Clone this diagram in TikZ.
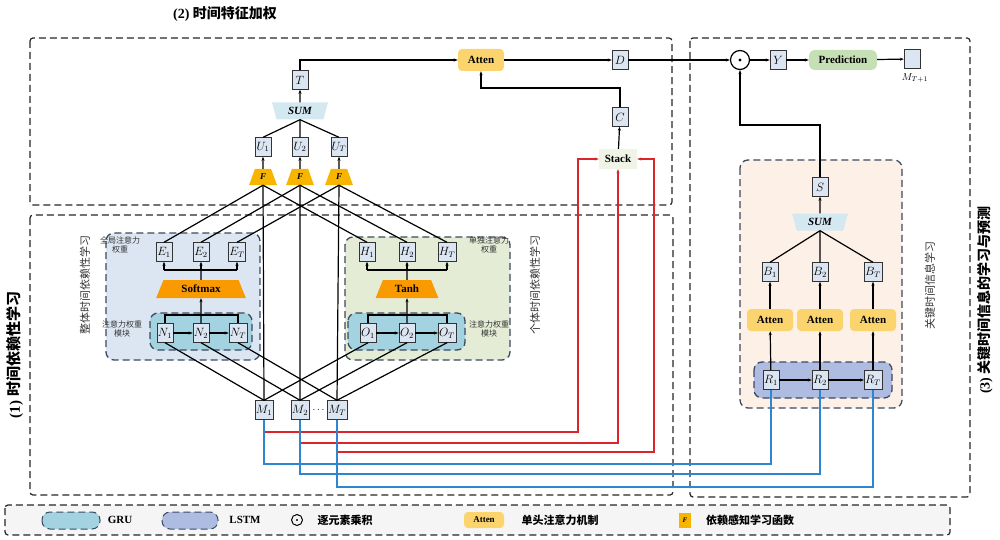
\documentclass[tikz,border=0pt]{standalone}
\usepackage{fontspec}
\setmainfont{Liberation Serif}
\newfontfamily\cjk{Noto Sans CJK SC}
\usetikzlibrary{shapes.geometric,arrows.meta}
\definecolor{nodefill}{HTML}{DCE6F2}
\definecolor{gblue}{HTML}{DCE6F2}
\definecolor{gru}{HTML}{A3D3E0}
\definecolor{ggreen}{HTML}{E4ECD6}
\definecolor{gorange}{HTML}{FDF0E6}
\definecolor{lstm}{HTML}{AEBCE2}
\definecolor{atten}{HTML}{FCD46E}
\definecolor{ffun}{HTML}{F7B500}
\definecolor{soft}{HTML}{F89A00}
\definecolor{pred}{HTML}{C5E0B4}
\definecolor{sumc}{HTML}{D4E8F1}
\definecolor{dash}{HTML}{3B4A5E}
\definecolor{redl}{HTML}{D9252B}
\definecolor{bluel}{HTML}{2E86D1}
\tikzset{
 box/.style={draw=black!80,fill=nodefill,minimum width=16pt,minimum height=19pt,inner sep=1pt,font=\fontsize{12}{12}\selectfont},
 ff/.style={trapezium,trapezium angle=70,fill=ffun,minimum width=24pt,minimum height=16pt,inner sep=1pt,font=\bfseries\itshape\fontsize{9}{9}\selectfont},
 sum/.style={trapezium,trapezium angle=75,shape border rotate=180,fill=sumc,minimum width=48pt,minimum height=17pt,inner sep=1pt,font=\bfseries\itshape\fontsize{11}{11}\selectfont},
 act/.style={trapezium,trapezium angle=68,fill=soft,minimum width=55pt,minimum height=18pt,inner sep=1pt,font=\bfseries\fontsize{11}{11}\selectfont},
 att/.style={rounded corners=4pt,fill=atten,minimum width=46pt,minimum height=22pt,inner sep=1pt,font=\bfseries\fontsize{11}{11}\selectfont},
 gbox/.style={dashed,draw=dash,line width=1.3pt,rounded corners=8pt,dash pattern=on 7pt off 4pt},
 big/.style={dashed,draw=black!85,line width=1.2pt,rounded corners=3pt,dash pattern=on 7pt off 4pt},
 ln/.style={line width=1.2pt,black},
 ar/.style={ln,-{Stealth[length=4pt]}},
 rl/.style={line width=1.3pt,redl},
 bl/.style={line width=1.3pt,bluel},
 lab/.style={font=\cjk\fontsize{8}{9}\selectfont,align=center,text=black!80},
 vlab/.style={font=\cjk\fontsize{11}{11}\selectfont,rotate=90,text=black!80},
}
\begin{document}
\begin{tikzpicture}[x=1pt,y=-1pt]
\useasboundingbox (0,0) rectangle (1000,540);
% big frames
\draw[big] (30,38) rectangle (672,205);
\draw[big] (30,215) rectangle (673,495);
\draw[big] (690,38) rectangle (970,497);
\draw[big,fill=black!4] (5,505) rectangle (950,535);
% group panels
\draw[gbox,fill=gblue] (106,233) rectangle (260,360);
\draw[gbox,fill=gru] (150,313) rectangle (252,350);
\draw[gbox,fill=ggreen] (345,237) rectangle (510,360);
\draw[gbox,fill=gru] (348,313) rectangle (465,350);
\draw[gbox,fill=gorange] (740,160) rectangle (902,408);
\draw[gbox,fill=lstm] (754,362) rectangle (892,398);
% titles
\node[font=\bfseries\fontsize{14}{14}\selectfont] (t2) at (225,14) {(2) {\cjk 时间特征加权}};
\node[font=\bfseries\fontsize{15}{15}\selectfont,rotate=90] (t1) at (15,355) {(1) {\cjk 时间依赖性学习}};
\node[font=\bfseries\fontsize{14}{14}\selectfont,rotate=90] (t3) at (985,300) {(3) {\cjk 关键时间信息的学习与预测}};
\node[vlab] (l1) at (85,285) {整体时间依赖性学习};
\node[vlab] (l2) at (535,285) {个体时间依赖性学习};
\node[vlab] (l3) at (930,285) {关键时间信息学习};
\node[lab] (g1) at (120,245) {全局注意力\\权重};
\node[lab] (g2) at (122,329) {注意力权重\\模块};
\node[lab] (g3) at (489,245) {单独注意力\\权重};
\node[lab] (g4) at (489,329) {注意力权重\\模块};
% M nodes
\node[box] (M1) at (264,410) {$M_1$};
\node[box] (M2) at (300,410) {$M_2$};
\node[box] (MT) at (337,410) {$M_T$};
\node (dots) at (318.5,410) {$\cdots$};
% left module
\node[box] (N1) at (165,333) {$N_1$};
\node[box] (N2) at (201,333) {$N_2$};
\node[box] (NT) at (238,333) {$N_T$};
\node[act] (sm) at (201,289) {Softmax};
\node[box] (E1) at (164,252) {$E_1$};
\node[box] (E2) at (201,252) {$E_2$};
\node[box] (ET) at (237,252) {$E_T$};
% right module
\node[box] (O1) at (368,333) {$O_1$};
\node[box] (O2) at (407,333) {$O_2$};
\node[box] (OT) at (447,333) {$O_T$};
\node[act] (th) at (407,289) {Tanh};
\node[box] (H1) at (367,252) {$H_1$};
\node[box] (H2) at (407,252) {$H_2$};
\node[box] (HT) at (447,252) {$H_T$};
% top
\node[ff] (F1) at (263,177) {F};
\node[ff] (F2) at (300,177) {F};
\node[ff] (F3) at (339,177) {F};
\node[box] (U1) at (263,147) {$U_1$};
\node[box] (U2) at (300,147) {$U_2$};
\node[box] (UT) at (339,147) {$U_T$};
\node[sum] (S1) at (300,111) {SUM};
\node[box] (T) at (300,80) {$T$};
\node[att] (A0) at (481,60) {Atten};
\node[box] (D) at (620,60) {$D$};
\node[box] (C) at (620,117) {$C$};
\node[fill=ggreen!60,minimum width=38pt,minimum height=20pt,inner sep=1pt,font=\bfseries\fontsize{11}{11}\selectfont] (st) at (618,159) {Stack};
\node[draw,circle,line width=1.2pt,minimum size=19pt,inner sep=0pt] (od) at (740,60) {};
\fill (od.center) circle (1.6pt);
\node[box] (Y) at (778,60) {$Y$};
\node[fill=pred,rounded corners=6pt,minimum width=68pt,minimum height=20pt,font=\bfseries\fontsize{11}{11}\selectfont] (pr) at (843,60) {Prediction};
\node[box,minimum width=16pt] (MP) at (912,59) {};
\node[font=\bfseries\fontsize{10}{10}\selectfont] (mpl) at (915,78) {$M_{T+1}$};
% right panel
\node[box] (S) at (820,187) {$S$};
\node[sum] (S2) at (820,222) {SUM};
\node[box] (B1) at (770,272) {$B_1$};
\node[box] (B2) at (820,272) {$B_2$};
\node[box] (BT) at (873,272) {$B_T$};
\node[att] (A1) at (770,320) {Atten};
\node[att] (A2) at (820,320) {Atten};
\node[att] (A3) at (873,320) {Atten};
\node[box] (R1) at (771,380) {$R_1$};
\node[box] (R2) at (820,380) {$R_2$};
\node[box] (RT) at (873,380) {$R_T$};
% connections bottom
\foreach \a/\b in {N1/M1,N2/M2,NT/MT,O1/M1,O2/M2,OT/MT}{\draw[ln] (\a.south) -- (\b.north);}
\draw[ln] (M1.north) -- (F1.south);
\draw[ln] (M2.north) -- (F2.south);
\draw[ln] (MT.north) -- (F3.south);
\foreach \a/\b in {E1/F1,E2/F2,ET/F3,H1/F1,H2/F2,HT/F3}{\draw[ln] (\a.north) -- (\b.south);}
\draw[ar] (N1) -- (N2); \draw[ar] (N2) -- (NT);
\draw[ar] (O1) -- (O2); \draw[ar] (O2) -- (OT);
\draw[ln] (N1.north) |- (NT.north |- 0,315) -- (NT.north);
\draw[ar] (N2.north) -- (sm.south);
\draw[ln] (sm.north) -- (E2.south |- 0,270);
\draw[ar] (E1.south |- 0,270) -- (E1.south);
\draw[ar] (E2.south |- 0,270) -- (E2.south);
\draw[ar] (ET.south |- 0,270) -- (ET.south);
\draw[ln] (E1.south |- 0,270) -- (ET.south |- 0,270);
\draw[ln] (O1.north) |- (OT.north |- 0,315) -- (OT.north);
\draw[ar] (O2.north) -- (th.south);
\draw[ln] (th.north) -- (H2.south |- 0,270);
\draw[ln] (H1.south |- 0,270) -- (HT.south |- 0,270);
\draw[ar] (H1.south |- 0,270) -- (H1.south);
\draw[ar] (H2.south |- 0,270) -- (H2.south);
\draw[ar] (HT.south |- 0,270) -- (HT.south);
% top connections
\draw[ar] (F1) -- (U1); \draw[ar] (F2) -- (U2); \draw[ar] (F3) -- (UT);
\draw[ln] (U1.north) -- (S1.south); \draw[ln] (U2.north) -- (S1.south); \draw[ln] (UT.north) -- (S1.south);
\draw[ar] (S1) -- (T);
\draw[ar] (T.north) |- (A0.west);
\draw[ar] (A0) -- (D);
\draw[ar] (st) -- (C);
\draw[ar] (C.north) |- (A0.south |- 0,88) -- (A0.south);
\draw[ar] (D) -- (od);
\draw[ar] (od) -- (Y);
\draw[ar] (Y) -- (pr);
\draw[ar] (pr) -- (MP);
\draw[ar] (S.north) |- (od.south |- 0,125) -- (od.south);
\draw[ar] (S2) -- (S);
\draw[ln] (B1.north) -- (S2.south); \draw[ln] (B2.north) -- (S2.south); \draw[ln] (BT.north) -- (S2.south);
\draw[ar] (A1) -- (B1); \draw[ar] (A2) -- (B2); \draw[ar] (A3) -- (BT);
\draw[ar] (R1) -- (A1); \draw[ar] (R2) -- (A2); \draw[ar] (RT) -- (A3);
\draw[ar] (R1) -- (R2); \draw[ar] (R2) -- (RT);
% red lines
\draw[rl,-{Stealth[length=4pt]}] (M1.south) |- (578,432) |- (st.west);
\draw[rl,-{Stealth[length=4pt]}] (M2.south) |- (st.south |- 0,443) -- (st.south);
\draw[rl,-{Stealth[length=4pt]}] (MT.south) |- (654,452) |- (st.east);
% blue lines
\draw[bl] (M1.south) |- (771,464) -- (R1.south);
\draw[bl] (M2.south) |- (820,474) -- (R2.south);
\draw[bl] (MT.south) |- (873,487) -- (RT.south);
% legend
\draw[gbox,fill=gru,line width=1pt] (42,512) rectangle (100,529);
\node[font=\bfseries\fontsize{11}{11}\selectfont] (lg1) at (120,520) {GRU};
\draw[gbox,fill=lstm,line width=1pt] (162,512) rectangle (218,529);
\node[font=\bfseries\fontsize{11}{11}\selectfont] (lg2) at (245,520) {LSTM};
\node[draw,circle,line width=1pt,minimum size=11pt,inner sep=0pt] (lgo) at (297,520) {};
\fill (lgo.center) circle (1.1pt);
\node[font=\cjk\bfseries\fontsize{11}{11}\selectfont] (lg3) at (345,520) {逐元素乘积};
\node[att,minimum width=40pt,minimum height=16pt,font=\bfseries\fontsize{9}{9}\selectfont] (lga) at (484,520) {Atten};
\node[font=\cjk\bfseries\fontsize{11}{11}\selectfont] (lg4) at (560,520) {单头注意力机制};
\node[fill=ffun,minimum width=12pt,minimum height=15pt,inner sep=0pt,font=\bfseries\itshape\fontsize{7}{7}\selectfont] (lgf) at (685,520) {F};
\node[font=\cjk\bfseries\fontsize{11}{11}\selectfont] (lg5) at (750,520) {依赖感知学习函数};
\end{tikzpicture}
\end{document}
